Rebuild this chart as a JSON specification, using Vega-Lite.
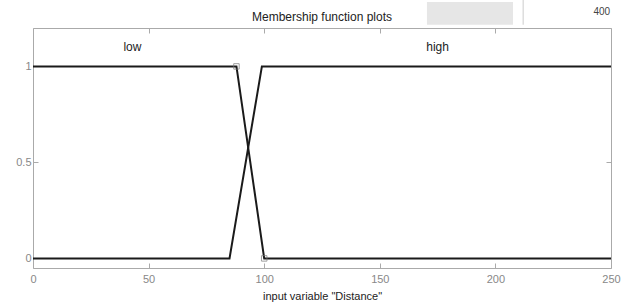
{
  "$schema": "https://vega.github.io/schema/vega-lite/v6.json",
  "width": 578,
  "height": 240,
  "autosize": {"type": "none"},
  "padding": {"left": 33, "top": 28, "right": 19, "bottom": 36},
  "background": "white",
  "config": {
    "font": "Liberation Sans",
    "view": {"stroke": "#aaaaaa", "strokeWidth": 1}
  },
  "title": {"text": "Membership function plots", "fontSize": 12, "fontWeight": "normal", "color": "#222222", "offset": 6, "dy": 33, "anchor": "middle", "font": "Liberation Sans"},
  "resolve": {"axis": {"x": "independent", "y": "independent"}},
  "datasets": {
    "mf": [
      {"mf": "low", "x": 0, "y": 1},
      {"mf": "low", "x": 88, "y": 1},
      {"mf": "low", "x": 100, "y": 0},
      {"mf": "low", "x": 250, "y": 0},
      {"mf": "high", "x": 0, "y": 0},
      {"mf": "high", "x": 85, "y": 0},
      {"mf": "high", "x": 99, "y": 1},
      {"mf": "high", "x": 250, "y": 1}
    ],
    "marks": [
      {"x": 88, "y": 1},
      {"x": 100, "y": 0}
    ],
    "labels": [
      {"label": "low", "x": 43, "y": 1.1},
      {"label": "high", "x": 175, "y": 1.1}
    ],
    "box": [{"x1": 170.4, "x2": 207.6, "y1": 1.217, "y2": 1.335}],
    "sep": [{"x": 212, "y1": 1.217, "y2": 1.36}],
    "num": [{"label": "400", "x": 246, "y": 1.285}]
  },
  "layer": [
    {
      "data": {"name": "mf"},
      "mark": {"type": "line", "color": "#1a1a1a", "strokeWidth": 2, "clip": true},
      "encoding": {
        "x": {"field": "x", "type": "quantitative", "scale": {"domain": [0, 250], "nice": false, "zero": false},
          "axis": {"values": [0, 50, 100, 150, 200, 250], "title": "input variable \"Distance\"", "titleFontWeight": "normal", "titleFontSize": 11, "titleColor": "#222222", "titlePadding": 6, "labelColor": "#888888", "labelFontSize": 11, "tickSize": -5, "tickColor": "#aaaaaa", "domain": false, "grid": false, "labelPadding": 10, "labelFlush": false}},
        "y": {"field": "y", "type": "quantitative", "scale": {"domain": [-0.05, 1.2], "nice": false, "zero": false},
          "axis": {"values": [0, 0.5, 1], "format": "~g", "title": null, "labelColor": "#888888", "labelFontSize": 11, "tickSize": -5, "tickColor": "#aaaaaa", "domain": false, "grid": false, "labelPadding": 7}},
        "detail": {"field": "mf", "type": "nominal"},
        "order": {"field": "x", "type": "quantitative"}
      }
    },
    {
      "data": {"name": "mf"},
      "mark": {"type": "rule", "opacity": 0},
      "encoding": {
        "x": {"field": "x", "type": "quantitative", "axis": {"orient": "top", "values": [0, 50, 100, 150, 200, 250], "labels": false, "title": null, "tickSize": -5, "tickColor": "#aaaaaa", "domain": false, "grid": false, "minExtent": 0, "maxExtent": 0}},
        "y": {"field": "y", "type": "quantitative", "axis": {"orient": "right", "values": [0, 0.5, 1], "labels": false, "title": null, "tickSize": -5, "tickColor": "#aaaaaa", "domain": false, "grid": false, "minExtent": 0, "maxExtent": 0}}
      }
    },
    {
      "data": {"name": "marks"},
      "mark": {"type": "point", "shape": "square", "filled": false, "stroke": "#777777", "strokeWidth": 1, "size": 30},
      "encoding": {
        "x": {"field": "x", "type": "quantitative", "axis": null},
        "y": {"field": "y", "type": "quantitative", "axis": null}
      }
    },
    {
      "data": {"name": "labels"},
      "mark": {"type": "text", "fontSize": 12, "color": "#222222"},
      "encoding": {
        "x": {"field": "x", "type": "quantitative", "axis": null},
        "y": {"field": "y", "type": "quantitative", "axis": null},
        "text": {"field": "label"}
      }
    },
    {
      "data": {"name": "box"},
      "mark": {"type": "rect", "color": "#e6e6e6", "clip": false},
      "encoding": {
        "x": {"field": "x1", "type": "quantitative", "axis": null},
        "x2": {"field": "x2"},
        "y": {"field": "y1", "type": "quantitative", "axis": null},
        "y2": {"field": "y2"}
      }
    },
    {
      "data": {"name": "sep"},
      "mark": {"type": "rule", "color": "#cccccc", "clip": false},
      "encoding": {
        "x": {"field": "x", "type": "quantitative", "axis": null},
        "y": {"field": "y1", "type": "quantitative", "axis": null},
        "y2": {"field": "y2"}
      }
    },
    {
      "data": {"name": "num"},
      "mark": {"type": "text", "fontSize": 10, "color": "#444444", "clip": false},
      "encoding": {
        "x": {"field": "x", "type": "quantitative", "axis": null},
        "y": {"field": "y", "type": "quantitative", "axis": null},
        "text": {"field": "label"}
      }
    }
  ]
}
